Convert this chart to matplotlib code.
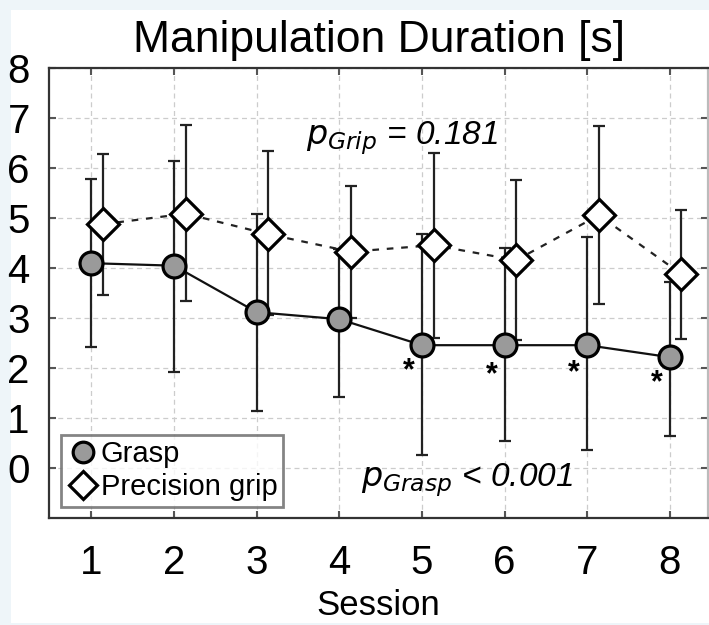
import numpy as np
import matplotlib
matplotlib.use('Agg')
import matplotlib.pyplot as plt
from matplotlib.patches import Rectangle

# Session numbers and values
sessions = [1, 2, 3, 4, 5, 6, 7, 8]

grasp_mean = [4.09, 4.04, 3.11, 2.97, 2.45, 2.45, 2.45, 2.21]
grasp_upper = [5.78, 6.13, 5.08, 4.37, 4.68, 4.40, 4.62, 3.72]
grasp_lower = [2.41, 1.92, 1.14, 1.41, 0.25, 0.53, 0.35, 0.64]

grip_mean = [4.87, 5.08, 4.67, 4.32, 4.45, 4.15, 5.05, 3.87]
grip_upper = [6.28, 6.86, 6.33, 5.63, 6.30, 5.75, 6.83, 5.16]
grip_lower = [3.45, 3.34, 3.05, 3.00, 2.59, 2.55, 3.27, 2.57]

star_sessions = [5, 6, 7, 8]
star_y = [1.92, 1.84, 1.88, 1.68]

yticks = [0, 1, 2, 3, 4, 5, 6, 7, 8]

plt.rcParams['font.family'] = ['Liberation Sans', 'DejaVu Sans']

fig = plt.figure(figsize=(7.09, 6.25), dpi=100)
fig.patch.set_facecolor('#eef5f9')
fig.add_artist(Rectangle((11 / 709, 2 / 625), 1, 613 / 625, transform=fig.transFigure,
                         facecolor='white', edgecolor='none', zorder=-10))

ax = fig.add_axes([0.0695, 0.1717, 0.929, 0.72])

x = np.array(sessions, dtype=float)
gm = np.array(grasp_mean)
pm = np.array(grip_mean)
xg = x + 0.14

# error bars
ax.errorbar(x, gm, yerr=[gm - np.array(grasp_lower), np.array(grasp_upper) - gm],
            fmt='none', ecolor='#222222', elinewidth=1.6, capsize=4, capthick=1.6, zorder=2)
ax.errorbar(xg, pm, yerr=[pm - np.array(grip_lower), np.array(grip_upper) - pm],
            fmt='none', ecolor='#222222', elinewidth=1.6, capsize=4, capthick=1.6, zorder=2)

# lines
ax.plot(x, gm, color='#111111', lw=1.6, zorder=3)
ax.plot(xg, pm, color='#222222', lw=1.6, ls=(0, (3, 3.5)), zorder=3)

# markers
ax.plot(x, gm, 'o', ms=16.5, mfc='#9a9a9a', mec='black', mew=2.3, zorder=4, label='Grasp')
ax.plot(xg, pm, 'D', ms=16, mfc='white', mec='black', mew=2.3, zorder=4, label='Precision grip')

# significance stars
for s, yv in zip(star_sessions, star_y):
    ax.text(s - 0.16, yv, '*', ha='center', va='center', fontsize=22, fontweight='bold')

ax.text(3.6, 6.6, r'$p_{Grip}$ = 0.181', fontsize=24, fontstyle='italic', va='center',
        math_fontfamily='dejavusans')
ax.text(4.26, -0.25, r'$p_{Grasp}$ < 0.001', fontsize=24, fontstyle='italic', va='center',
        math_fontfamily='dejavusans')

ax.set_xlim(0.49, 8.46)
ax.set_ylim(-1, 8)
ax.set_xticks(sessions)
ax.set_yticks(yticks)
ax.tick_params(axis='both', direction='in', length=5, width=1.5, color='#555555',
               top=True, right=True, labelsize=29)
ax.tick_params(axis='x', pad=19)
ax.tick_params(axis='y', pad=14)
ax.grid(True, color='#cccccc', ls=(0, (4, 3)), lw=0.9)
ax.set_axisbelow(True)
for sp in ax.spines.values():
    sp.set_color('#333333')
    sp.set_linewidth(1.6)
ax.spines['right'].set_color('#bbbbbb')

ax.set_xlabel('Session', fontsize=25, labelpad=5)
fig.text(0.535, 0.935, 'Manipulation Duration [s]', ha='center', va='center', fontsize=32)

leg = ax.legend(loc='lower left', bbox_to_anchor=(0.005, 0.005), fontsize=21, frameon=True,
                fancybox=False, borderpad=0.2, handletextpad=0.05, labelspacing=0.15,
                handlelength=1.1, borderaxespad=0.3, markerscale=0.9)
leg.get_frame().set_edgecolor('#666666')
leg.get_frame().set_linewidth(2)

fig.savefig('out.png', dpi=100, facecolor=fig.get_facecolor())
